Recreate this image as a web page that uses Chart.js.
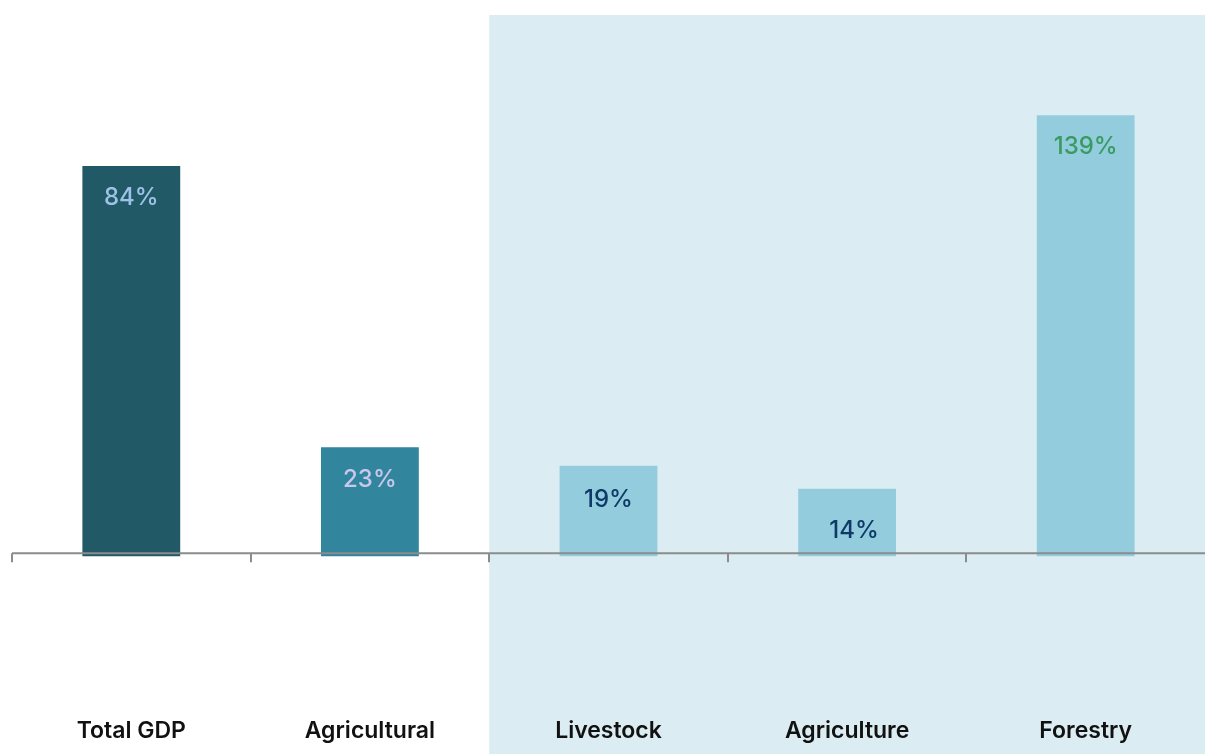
<!DOCTYPE html>
<html>
<head>
<meta charset="utf-8">
<script src="https://cdn.jsdelivr.net/npm/chart.js@4"></script>
<style>
  html, body { margin: 0; padding: 0; background: #fff; }
  #wrap { width: 1205px; height: 754px; position: relative; }
</style>
</head>
<body>
<div id="wrap"><canvas id="chart"></canvas></div>
<script>
const categories = ['Total GDP', 'Agricultural', 'Livestock', 'Agriculture', 'Forestry'];
// value printed on each bar
const pctLabels = [84, 23, 19, 14, 139];
// height the bar is drawn at (forestry bar is cut short in the source)
const barValues = [84, 23, 19, 14, 95];

const barColors = ['#215967', '#31859c', '#93cddd', '#93cddd', '#93cddd'];
const labelColors = ['#9dc3e6', '#cbc6ee', '#0f3a68', '#0f3a68', '#3a9a62'];

// light blue panel behind the last three categories
const shadePlugin = {
  id: 'shade',
  beforeDraw(chart) {
    const x = chart.scales.x;
    const ctx = chart.ctx;
    const half = (x.getPixelForValue(3) - x.getPixelForValue(2)) / 2;
    const left = x.getPixelForValue(2) - half;
    ctx.save();
    ctx.fillStyle = '#dbedf3';
    ctx.fillRect(left, 15, chart.width - left, chart.height - 15);
    ctx.restore();
  }
};

// zero line with ticks between categories
const zeroAxisPlugin = {
  id: 'zeroAxis',
  afterDatasetsDraw(chart) {
    const x = chart.scales.x;
    const y0 = chart.scales.y.getPixelForValue(0);
    const ctx = chart.ctx;
    const half = (x.getPixelForValue(1) - x.getPixelForValue(0)) / 2;
    ctx.save();
    ctx.strokeStyle = '#8c8c8c';
    ctx.lineWidth = 2;
    ctx.beginPath();
    ctx.moveTo(x.left, y0);
    ctx.lineTo(x.right, y0);
    categories.forEach((c, i) => {
      const bx = Math.round(x.getPixelForValue(i) - half);
      ctx.moveTo(bx, y0);
      ctx.lineTo(bx, y0 + 9);
    });
    ctx.stroke();
    ctx.restore();
  }
};

//labels inside bars
const barLabelPlugin = {
  id: 'barLabels',
  afterDatasetsDraw(chart) {
    const ctx = chart.ctx;
    const meta = chart.getDatasetMeta(0);
    const dy = [32, 33, 34, 42, 32];
    const dx = [0, 0, 0, 7, 0];
    ctx.save();
    ctx.font = '500 24px Inter';
    ctx.textAlign = 'center';
    ctx.textBaseline = 'middle';
    meta.data.forEach((bar, i) => {
      ctx.fillStyle = labelColors[i];
      ctx.fillText(pctLabels[i] + '%', bar.x + dx[i], bar.y + dy[i]);
    });
    ctx.restore();
  }
};

new Chart(document.getElementById('chart'), {
  type: 'bar',
  data: {
    labels: categories,
    datasets: [{
      data: barValues,
      backgroundColor: barColors,
      borderWidth: 0,
      base: -0.65,
      categoryPercentage: 1,
      barPercentage: 0.41
    }]
  },
  options: {
    responsive: true,
    maintainAspectRatio: false,
    animation: false,
    layout: { padding: { left: 12, right: 0, top: 0, bottom: 5 } },
    plugins: {
      legend: { display: false },
      tooltip: { enabled: false }
    },
    scales: {
      x: {
        grid: { display: false },
        border: { display: false },
        ticks: {
          color: '#111',
          padding: 4,
          maxRotation: 0,
          font: { family: 'Inter', size: 23, weight: '600' }
        }
      },
      y: {
        display: false,
        min: -33,
        max: 120
      }
    }
  },
  plugins: [shadePlugin, zeroAxisPlugin, barLabelPlugin]
});
</script>
</body>
</html>
